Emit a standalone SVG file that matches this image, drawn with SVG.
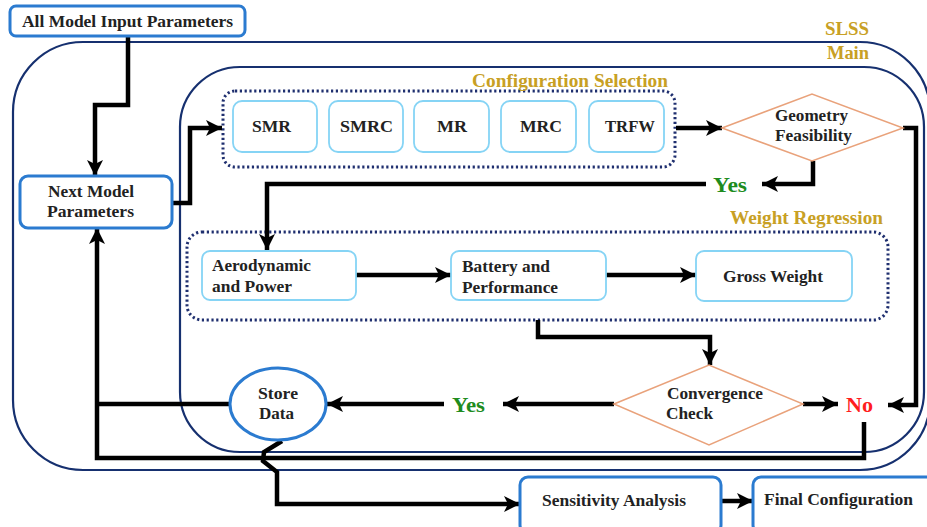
<svg xmlns="http://www.w3.org/2000/svg" width="927" height="527" viewBox="0 0 927 527">
<defs>
<style>
.t{font-family:"Liberation Serif","Times New Roman","Noto Serif","DejaVu Serif",serif;font-weight:bold;font-size:17px;fill:#222}
.c{text-anchor:middle}
.gold{font-family:"Liberation Serif","Times New Roman","Noto Serif","DejaVu Serif",serif;font-weight:bold;font-size:18px;fill:#c8a024}
.yes{font-family:"Liberation Serif","Times New Roman","Noto Serif","DejaVu Serif",serif;font-weight:bold;font-size:20px;fill:#1e8c1e}
.no{font-family:"Liberation Serif","Times New Roman","Noto Serif","DejaVu Serif",serif;font-weight:bold;font-size:21px;fill:#ff1e1e}
.box{fill:#fff;stroke:#2b7bd0;stroke-width:3}
.sub{fill:#fff;stroke:#86d4f5;stroke-width:1.8}
.dia{fill:#fff;stroke:#e9a27b;stroke-width:1.5}
.cont{fill:none;stroke:#16306f;stroke-width:2.2}
.dot{fill:none;stroke:#1f2f6f;stroke-width:3;stroke-dasharray:2.2 2.6}
.ln{fill:none;stroke:#000;stroke-width:4.5;stroke-linejoin:miter}
.ar{marker-end:url(#ah)}
</style>
<marker id="ah" markerUnits="userSpaceOnUse" markerWidth="16" markerHeight="16" viewBox="0 0 16 16" refX="16" refY="8" orient="auto">
<path d="M0,0 L16,8 L0,16 L4,8 Z" fill="#000"/>
</marker>
</defs>
<rect width="927" height="527" fill="#fff"/>

<g id="containers">
<rect class="cont" x="13" y="42" width="917" height="428" rx="70"/>
<rect class="cont" x="180" y="67" width="744" height="385" rx="60"/>
<text class="gold" x="825" y="35" textLength="44" lengthAdjust="spacingAndGlyphs">SLSS</text>
<text class="gold" x="827" y="59" textLength="42" lengthAdjust="spacingAndGlyphs">Main</text>
<rect class="dot" x="223" y="91" width="452" height="76" rx="12"/>
<text class="gold" x="472" y="87" textLength="196" lengthAdjust="spacingAndGlyphs">Configuration Selection</text>
<rect class="dot" x="187" y="232" width="701" height="88" rx="15"/>
<text class="gold" x="730" y="224" textLength="153" lengthAdjust="spacingAndGlyphs">Weight Regression</text>
</g>

<g id="connectors">
<path class="ln ar" d="M128,36 V105 H95 V176"/>
<path class="ln ar" d="M172,203 H190 V128 H222"/>
<path class="ln ar" d="M676,128 H722"/>
<path class="ln ar" d="M813,161 V184 H762"/>
<path class="ln ar" d="M706,184 H267 V250"/>
<path class="ln ar" d="M903,128 H916 V405 H888"/>
<path class="ln ar" d="M356,275 H451"/>
<path class="ln ar" d="M606,275 H696"/>
<path class="ln ar" d="M538,320 V337 H710 V365"/>
<path class="ln ar" d="M614,404 H503"/>
<path class="ln ar" d="M444,404 H327"/>
<path class="ln ar" d="M803,404 H838"/>
<path class="ln" d="M230,404 H97"/>
<path class="ln ar" d="M864,422 V458 H97 V228"/>
<path class="ln ar" d="M282,441 L264,452 L263,461 L277,472 V504 H520"/>
<path class="ln ar" d="M721,501 H753"/>
</g>

<g id="all-input">
<rect class="box" x="10" y="6" width="235" height="30" rx="6"/>
<text class="t" x="22" y="27" textLength="211" lengthAdjust="spacingAndGlyphs">All Model Input Parameters</text>
</g>
<g id="next-model">
<rect class="box" x="20" y="176" width="152" height="52" rx="8"/>
<text class="t" x="48" y="197" textLength="86" lengthAdjust="spacingAndGlyphs">Next Model</text>
<text class="t" x="47" y="217" textLength="87" lengthAdjust="spacingAndGlyphs">Parameters</text>
</g>
<g id="smr">
<rect class="sub" x="233" y="101" width="84" height="51" rx="9"/>
<text class="t" x="252" y="132" textLength="39" lengthAdjust="spacingAndGlyphs">SMR</text>
</g>
<g id="smrc">
<rect class="sub" x="329" y="101" width="74" height="51" rx="9"/>
<text class="t" x="340" y="132" textLength="53" lengthAdjust="spacingAndGlyphs">SMRC</text>
</g>
<g id="mr">
<rect class="sub" x="414" y="101" width="75" height="51" rx="9"/>
<text class="t" x="437" y="132" textLength="30" lengthAdjust="spacingAndGlyphs">MR</text>
</g>
<g id="mrc">
<rect class="sub" x="501" y="101" width="75" height="51" rx="9"/>
<text class="t" x="520" y="132" textLength="42" lengthAdjust="spacingAndGlyphs">MRC</text>
</g>
<g id="trfw">
<rect class="sub" x="589" y="101" width="75" height="51" rx="9"/>
<text class="t" x="605" y="132" textLength="50" lengthAdjust="spacingAndGlyphs">TRFW</text>
</g>
<g id="geometry">
<polygon class="dia" points="722,128 812,94 903,128 812,161"/>
<text class="t" x="775" y="121" textLength="73" lengthAdjust="spacingAndGlyphs">Geometry</text>
<text class="t" x="775" y="141" textLength="77" lengthAdjust="spacingAndGlyphs">Feasibility</text>
</g>
<g id="yes1">
<text class="yes" x="713" y="192" textLength="34" lengthAdjust="spacingAndGlyphs">Yes</text>
</g>
<g id="aero">
<rect class="sub" x="202" y="251" width="154" height="49" rx="8"/>
<text class="t" x="212" y="271" textLength="99" lengthAdjust="spacingAndGlyphs">Aerodynamic</text>
<text class="t" x="212" y="292" textLength="80" lengthAdjust="spacingAndGlyphs">and Power</text>
</g>
<g id="battery">
<rect class="sub" x="451" y="251" width="155" height="49" rx="8"/>
<text class="t" x="462" y="272" textLength="88" lengthAdjust="spacingAndGlyphs">Battery and</text>
<text class="t" x="462" y="293" textLength="96" lengthAdjust="spacingAndGlyphs">Performance</text>
</g>
<g id="gross">
<rect class="sub" x="696" y="251" width="156" height="50" rx="8"/>
<text class="t" x="723" y="282" textLength="100" lengthAdjust="spacingAndGlyphs">Gross Weight</text>
</g>
<g id="convergence">
<polygon class="dia" points="614,404 709,365 803,404 709,445"/>
<text class="t" x="667" y="399" textLength="96" lengthAdjust="spacingAndGlyphs">Convergence</text>
<text class="t" x="666" y="419" textLength="47" lengthAdjust="spacingAndGlyphs">Check</text>
</g>
<g id="yes2">
<text class="yes" x="452" y="412" textLength="33" lengthAdjust="spacingAndGlyphs">Yes</text>
</g>
<g id="no">
<text class="no" x="846" y="412" textLength="27" lengthAdjust="spacingAndGlyphs">No</text>
</g>
<g id="store">
<ellipse cx="278" cy="404" rx="48" ry="36" fill="#fff" stroke="#2b7bd0" stroke-width="3"/>
<text class="t" x="258" y="399" textLength="40" lengthAdjust="spacingAndGlyphs">Store</text>
<text class="t" x="259" y="419" textLength="35" lengthAdjust="spacingAndGlyphs">Data</text>
</g>
<g id="sensitivity">
<rect class="box" x="520" y="477" width="201" height="56" rx="8"/>
<text class="t" x="542" y="506" textLength="144" lengthAdjust="spacingAndGlyphs">Sensitivity Analysis</text>
</g>
<g id="final">
<rect class="box" x="753" y="477" width="185" height="56" rx="8"/>
<text class="t" x="764" y="505" textLength="149" lengthAdjust="spacingAndGlyphs">Final Configuration</text>
</g>
</svg>
